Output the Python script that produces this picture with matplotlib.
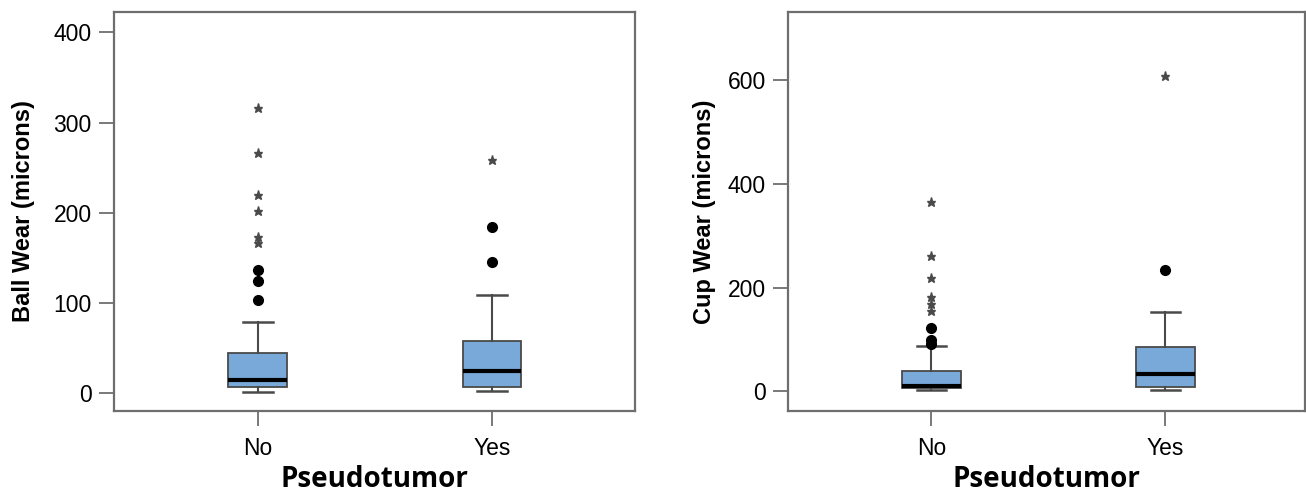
import matplotlib
matplotlib.use("Agg")
import matplotlib.pyplot as plt

# ---- data ----
categories = ["No", "Yes"]

ball_whislo = [2, 3]
ball_q1 = [7.5, 7]
ball_med = [15, 25]
ball_q3 = [45, 58]
ball_whishi = [79, 109]
ball_mild = [[103, 124, 137], [146, 184]]
ball_extreme = [[166, 173, 202, 220, 266, 316], [259]]

cup_whislo = [2, 3]
cup_q1 = [7, 8]
cup_med = [10, 33]
cup_q3 = [40, 85]
cup_whishi = [87, 152]
cup_mild = [[92, 98, 122], [233]]
cup_extreme = [[155, 168, 182, 219, 260, 365], [608]]

ball_ticks = [0, 100, 200, 300, 400]
cup_ticks = [0, 200, 400, 600]

plt.rcParams['font.family'] = ['Liberation Sans', 'DejaVu Sans']

fig = plt.figure(figsize=(13.06, 4.96), dpi=100)
ax1 = fig.add_axes([114/1306, 1-411/496, 521/1306, 399/496])
ax2 = fig.add_axes([788/1306, 1-411/496, 517/1306, 399/496])

BOX_COLOR = "#78a9d9"
EDGE = "#4a4a4a"
FRAME = "#6e6e6e"


def draw(ax, whislo, q1, med, q3, whishi, mild, extreme, ticks, ylim, xlim,
         ylabel, ylabelpad):
    stats = []
    for i in range(len(categories)):
        stats.append(dict(whislo=whislo[i], q1=q1[i], med=med[i], q3=q3[i],
                          whishi=whishi[i], fliers=[], label=categories[i]))
    pos = list(range(len(categories)))
    ax.bxp(stats, positions=pos, widths=0.252, patch_artist=True,
           showfliers=False,
           boxprops=dict(facecolor=BOX_COLOR, edgecolor=EDGE, linewidth=1.3),
           medianprops=dict(color="black", linewidth=3),
           whiskerprops=dict(color=EDGE, linewidth=1.5),
           capprops=dict(color=EDGE, linewidth=1.8),
           capwidths=0.126)
    for i in range(len(categories)):
        ax.plot([pos[i]] * len(mild[i]), mild[i], 'o', color="black",
                markersize=7, linestyle='none', zorder=4)
        ax.plot([pos[i]] * len(extreme[i]), extreme[i], '*', color="#4a4a4a",
                markersize=6.5, linestyle='none', zorder=4)
    ax.set_xlim(*xlim)
    ax.set_ylim(*ylim)
    ax.set_yticks(ticks)
    ax.set_xticks(pos)
    ax.set_xticklabels(categories)
    for s in ax.spines.values():
        s.set_color(FRAME)
        s.set_linewidth(1.6)
    ax.tick_params(axis='both', length=11, width=1.3, color=FRAME,
                   labelsize=16.5, pad=5, labelcolor="black")
    ax.tick_params(axis='x', pad=8)
    ax.set_ylabel(ylabel, fontsize=17, fontweight='bold', labelpad=ylabelpad)
    ax.set_xlabel("Pseudotumor", fontsize=20, fontweight='bold',
                  family=['Open Sans', 'DejaVu Sans'], labelpad=3.5)


draw(ax1, ball_whislo, ball_q1, ball_med, ball_q3, ball_whishi, ball_mild,
     ball_extreme, ball_ticks, (-19.6, 422.5), (-0.615, 1.611),
     "Ball Wear (microns)", 13)
draw(ax2, cup_whislo, cup_q1, cup_med, cup_q3, cup_whishi, cup_mild,
     cup_extreme, cup_ticks, (-38, 731), (-0.612, 1.596),
     "Cup Wear (microns)", 8)

fig.savefig("out.png", dpi=100)
